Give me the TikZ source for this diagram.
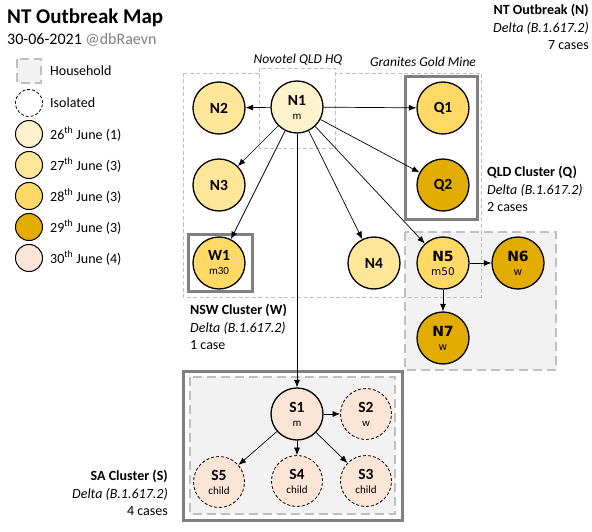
\documentclass[tikz,border=0pt]{standalone}
\usepackage{fontspec}
\setmainfont{Carlito}
\newfontfamily\dejavu{DejaVu Sans}
\usetikzlibrary{arrows.meta}
\definecolor{cA}{HTML}{FFF2CC}
\definecolor{cB}{HTML}{FFE699}
\definecolor{cC}{HTML}{FFD966}
\definecolor{cD}{HTML}{E2AC00}
\definecolor{cE}{HTML}{FBE5D6}
\definecolor{hhfill}{HTML}{F2F2F2}
\definecolor{hhline}{HTML}{BFBFBF}
\definecolor{boxgray}{HTML}{808080}
\definecolor{subgray}{HTML}{808080}
\newcommand\clab[2]{{\fontsize{15.5}{15.5}\selectfont\bfseries #1}\\[2pt]{\fontsize{11}{11}\selectfont #2}}
\newcommand\blab[1]{{\fontsize{15.5}{15.5}\selectfont\bfseries #1}}
\newcommand\dlab[2]{{\dejavu\fontsize{14}{14}\selectfont\bfseries #1}\\[2pt]{\dejavu\fontsize{10.5}{10.5}\selectfont #2}}
\begin{document}
\begin{tikzpicture}[x=1pt,y=-1pt,
  case/.style={circle,draw=black,line width=1.3pt,minimum size=52pt,inner sep=0pt,align=center},
  iso/.style={circle,draw=black,dash pattern=on 3pt off 2pt,line width=0.8pt,minimum size=51pt,inner sep=0pt,align=center},
  legc/.style={circle,draw=black,line width=1pt,minimum size=27pt,inner sep=0pt},
  edge/.style={-{Latex[length=7.5pt,width=6pt]},line width=0.7pt},
  household/.style={fill=hhfill,draw=hhline,line width=2.8pt,dash pattern=on 9pt off 5pt},
  thickbox/.style={draw=boxgray,line width=3pt},
  thinbox/.style={draw=hhline,line width=0.8pt,dash pattern=on 4pt off 2.5pt},
  legtxt/.style={anchor=west,inner sep=0pt,font=\fontsize{14}{16}\selectfont},
  info/.style={inner sep=0pt,font=\fontsize{14}{17.5}\selectfont},
  place/.style={inner sep=0pt,font=\fontsize{13.5}{14}\selectfont\itshape}]
\useasboundingbox (0,0) rectangle (592,532);

% title
\node[anchor=west,inner sep=0pt,font=\fontsize{21}{24}\selectfont\bfseries] (title) at (7,18) {NT Outbreak Map};
\node[anchor=west,inner sep=0pt,font=\fontsize{16}{18}\selectfont] (date) at (7,40) {30-06-2021 \textcolor{subgray}{@dbRaevn}};

% legend
\path[household] (17,59) rectangle (41,83);
\node[legtxt] (lhh) at (50,71) {Household};
\node[legc,draw=black,line width=0.8pt,dash pattern=on 3pt off 2pt] (liso) at (29,103) {};
\node[legtxt] (liso-t) at (50,103) {Isolated};
\node[legc,fill=cA] (l26) at (29,134) {};
\node[legtxt] (l26t) at (50,134) {26\textsuperscript{th} June (1)};
\node[legc,fill=cB] (l27) at (29,165) {};
\node[legtxt] (l27t) at (50,165) {27\textsuperscript{th} June (3)};
\node[legc,fill=cC] (l28) at (29,196) {};
\node[legtxt] (l28t) at (50,196) {28\textsuperscript{th} June (3)};
\node[legc,fill=cD] (l29) at (29,227) {};
\node[legtxt] (l29t) at (50,227) {29\textsuperscript{th} June (3)};
\node[legc,fill=cE] (l30) at (29,258) {};
\node[legtxt] (l30t) at (50,258) {30\textsuperscript{th} June (4)};

% boxes
\path[household] (405,232) rectangle (556,370);
\draw[thinbox] (183,73) rectangle (481,297);
\draw[thinbox,fill=white] (259,68) rectangle (335,148);
\draw[thickbox] (405,77) rectangle (477,219);
\draw[thickbox] (188,234) rectangle (252,291);
\draw[thickbox,fill=white] (183,371) rectangle (402,520);
\path[household] (190,377) rectangle (395,514);

% place labels
\node[place] (novotel) at (298,60) {Novotel QLD HQ};
\node[place] (granites) at (423,62) {Granites Gold Mine};

% info texts
\node[info,anchor=north east,align=right] (ntinfo) at (589,4) {\textbf{NT Outbreak (N)}\\\textit{Delta (B.1.617.2)}\\7 cases};
\node[info,anchor=north west,align=left] (qinfo) at (487,166) {\textbf{QLD Cluster (Q)}\\\textit{Delta (B.1.617.2)}\\2 cases};
\node[info,anchor=north west,align=left] (winfo) at (190,304) {\textbf{NSW Cluster (W)}\\\textit{Delta (B.1.617.2)}\\1 case};
\node[info,anchor=north east,align=right] (sinfo) at (168,470) {\textbf{SA Cluster (S)}\\\textit{Delta (B.1.617.2)}\\4 cases};

% cases
\node[case,fill=cA] (N1) at (297,107) {\clab{N1}{m}};
\node[case,fill=cB] (N2) at (219,108) {\blab{N2}};
\node[case,fill=cB] (N3) at (219,185) {\blab{N3}};
\node[case,fill=cC] (W1) at (219,263) {\clab{W1}{m30}};
\node[case,fill=cB] (N4) at (374,263) {\blab{N4}};
\node[case,fill=cC] (N5) at (443,263) {\dlab{N5}{m50}};
\node[case,fill=cD] (N6) at (518,263) {\dlab{N6}{w}};
\node[case,fill=cD] (N7) at (443,338) {\dlab{N7}{w}};
\node[case,fill=cC] (Q1) at (443,108) {\blab{Q1}};
\node[case,fill=cD] (Q2) at (443,185) {\blab{Q2}};
\node[case,fill=cE] (S1) at (297,414) {\clab{S1}{m}};
\node[iso,fill=cE] (S2) at (366,414) {\clab{S2}{w}};
\node[iso,fill=cE] (S3) at (366,481) {\clab{S3}{child}};
\node[iso,fill=cE] (S4) at (297,481) {\clab{S4}{child}};
\node[iso,fill=cE] (S5) at (219,482) {\clab{S5}{child}};

% edges
\draw[edge] (N1) -- (N2);
\draw[edge] (N1) -- (N3);
\draw[edge] (N1) -- (W1);
\draw[edge] (N1) -- (N4);
\draw[edge] (N1) -- (N5);
\draw[edge] (N1) -- (Q1);
\draw[edge] (N1) -- (Q2);
\draw[edge] (N1) -- (S1);
\draw[edge] (N5) -- (N6);
\draw[edge] (N5) -- (N7);
\draw[edge] (S1) -- (S2);
\draw[edge] (S1) -- (S3);
\draw[edge] (S1) -- (S4);
\draw[edge] (S1) -- (S5);
\end{tikzpicture}
\end{document}
